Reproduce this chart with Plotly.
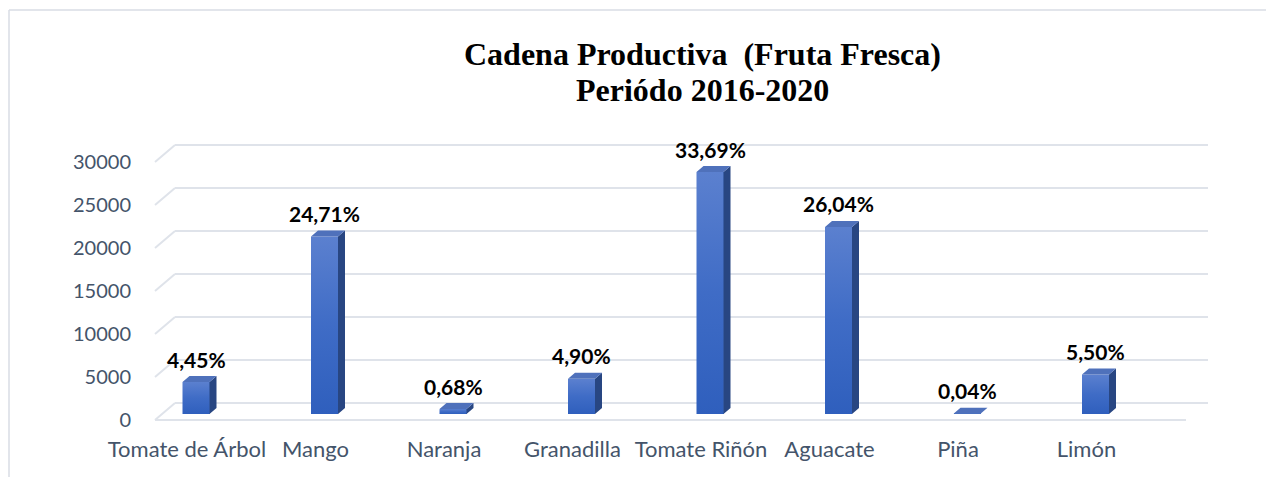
import plotly.graph_objects as go

# ---------------- data ----------------
categories = ["Tomate de Árbol", "Mango", "Naranja", "Granadilla",
              "Tomate Riñón", "Aguacate", "Piña", "Limón"]
values = [3720, 20640, 570, 4090, 28140, 21750, 35, 4590]
pct_labels = ["4,45%", "24,71%", "0,68%", "4,90%",
              "33,69%", "26,04%", "0,04%", "5,50%"]
y_ticks = [0, 5000, 10000, 15000, 20000, 25000, 30000]
title_lines = ["Cadena Productiva  (Fruta Fresca)", "Periódo 2016-2020"]

# ---------------- geometry (pixel based 3D look) ----------------
W, H = 1274, 477
OFF = 8                      # page body margin
PL, PR, PT, PB = 150, 1214, 130, 427   # plot area in page pixels
ML, MT = PL - OFF, PT - OFF
MR, MB = W - (PR - OFF), H - (PB - OFF)
PW, PH = PR - PL, PB - PT
PX_PER_CAT = 128.5
PX_PER_VAL = 43 / 5000.0
x_lo = -37 / PX_PER_CAT
x_hi = x_lo + PW / PX_PER_CAT
y_lo = -7 / PX_PER_VAL
y_hi = y_lo + PH / PX_PER_VAL

def ux(px):  # pixel distance -> x data units
    return px / PX_PER_CAT

def uy(px):  # pixel distance -> y data units
    return px / PX_PER_VAL

bar_shift = ux(9)         # bars sit deeper in the 3D box -> drawn slightly right
bar_lift = uy(6)          # ... and slightly above the front edge
depth_x, depth_y = ux(7), uy(6)
bar_w = ux(27)
xpos = [i + bar_shift for i in range(len(categories))]

fig = go.Figure()

# front faces (bar) + gradient overlay
fig.add_trace(go.Bar(
    x=xpos, y=values, width=bar_w,
    base=[bar_lift] * len(values),
    marker=dict(color="#4170c8", line=dict(width=0)),
    hovertext=categories, name="", showlegend=False))

for xc, v in zip(xpos, values):
    x0, x1 = xc - bar_w / 2, xc + bar_w / 2
    b = bar_lift
    if v < uy(2):
        continue
    fig.add_trace(go.Scatter(
        x=[x0, x1, x1, x0, x0], y=[b, b, b + v, b + v, b],
        fill="toself", mode="lines", line=dict(width=0, color="#4170c8"),
        fillgradient=dict(type="vertical", start=b, stop=b + v,
                          colorscale=[[0, "#2f5fbd"], [0.5, "#3f6cc6"],
                                      [1, "#5b80cf"]]),
        hoverinfo="skip", showlegend=False))

side_x, side_y, top_x, top_y = [], [], [], []
for xc, v in zip(xpos, values):
    x0, x1 = xc - bar_w / 2, xc + bar_w / 2
    b = bar_lift
    side_x += [x1, x1 + depth_x, x1 + depth_x, x1, x1, None]
    side_y += [b, b + depth_y, b + v + depth_y, b + v, b, None]
    top_x += [x0, x1, x1 + depth_x, x0 + depth_x, x0, None]
    top_y += [b + v, b + v, b + v + depth_y, b + v + depth_y, b + v, None]

fig.add_trace(go.Scatter(x=side_x, y=side_y, fill="toself", mode="lines",
                         line=dict(width=0, color="#284682"),
                         fillcolor="#284682", hoverinfo="skip", showlegend=False))
fig.add_trace(go.Scatter(x=top_x, y=top_y, fill="toself", mode="lines",
                         line=dict(width=0, color="#4f71bb"),
                         fillcolor="#4f71bb", hoverinfo="skip", showlegend=False))

# percentage labels
for xc, v, t in zip(xpos, values, pct_labels):
    fig.add_annotation(x=xc, y=bar_lift + v + depth_y + uy(17), text="<b>" + t + "</b>",
                       showarrow=False, xanchor="center", yanchor="middle",
                       font=dict(family="Lato", size=21, color="#000000"))

# 3D gridlines: back wall + diagonal connectors + front floor edge
grid_col = "#dfe3ea"
back_dx, back_dy = ux(20), uy(17)
front_x0 = x_lo + ux(155 - PL)
front_x1 = x_lo + ux(1186 - PL)
back_x1 = x_lo + ux(1208 - PL)
for t in y_ticks:
    fig.add_shape(type="line", x0=front_x0 + back_dx, x1=back_x1,
                  y0=t + back_dy, y1=t + back_dy,
                  line=dict(color=grid_col, width=2), layer="below")
    fig.add_shape(type="line", x0=front_x0, x1=front_x0 + back_dx,
                  y0=t, y1=t + back_dy,
                  line=dict(color=grid_col, width=2), layer="below")
fig.add_shape(type="line", x0=front_x0, x1=front_x1, y0=0, y1=0,
              line=dict(color=grid_col, width=2), layer="below")

# chart frame (top and left edges), given in page pixels
def px_paper_x(px):
    return (px - PL) / PW

def px_paper_y(py):
    return (PB - py) / PH

frame_col = "#d9dde4"
fig.add_shape(type="line", xref="paper", yref="paper",
              x0=px_paper_x(9), x1=px_paper_x(W + 20),
              y0=px_paper_y(10), y1=px_paper_y(10),
              line=dict(color=frame_col, width=1.5))
fig.add_shape(type="line", xref="paper", yref="paper",
              x0=px_paper_x(9), x1=px_paper_x(9),
              y0=px_paper_y(10), y1=px_paper_y(H + 20),
              line=dict(color=frame_col, width=1.5))

# title: two lines
title_font = dict(family="Liberation Serif", size=32, color="#000000", weight="bold")
fig.add_annotation(xref="paper", yref="paper", x=px_paper_x(702),
                   y=px_paper_y(54), text=title_lines[0], showarrow=False,
                   xanchor="center", yanchor="middle", font=title_font)
fig.add_annotation(xref="paper", yref="paper", x=px_paper_x(702),
                   y=px_paper_y(90), text=title_lines[1], showarrow=False,
                   xanchor="center", yanchor="middle", font=title_font)

fig.update_layout(
    width=W, height=H,
    margin=dict(l=ML, r=MR, t=MT, b=MB),
    paper_bgcolor="white", plot_bgcolor="white",
    xaxis=dict(range=[x_lo, x_hi], tickvals=list(range(len(categories))),
               ticktext=categories, showgrid=False, zeroline=False,
               showline=False, ticks="outside", ticklen=3,
               tickcolor="rgba(0,0,0,0)",
               tickfont=dict(family="Lato", size=22, color="#44546a")),
    yaxis=dict(range=[y_lo, y_hi], tickvals=y_ticks,
               ticktext=[str(t) for t in y_ticks], showgrid=False,
               zeroline=False, showline=False, ticks="outside", ticklen=14,
               tickcolor="rgba(0,0,0,0)",
               tickfont=dict(family="Lato", size=20, color="#44546a")),
    showlegend=False,
    bargap=0,
)

fig.write_html("out.html")
